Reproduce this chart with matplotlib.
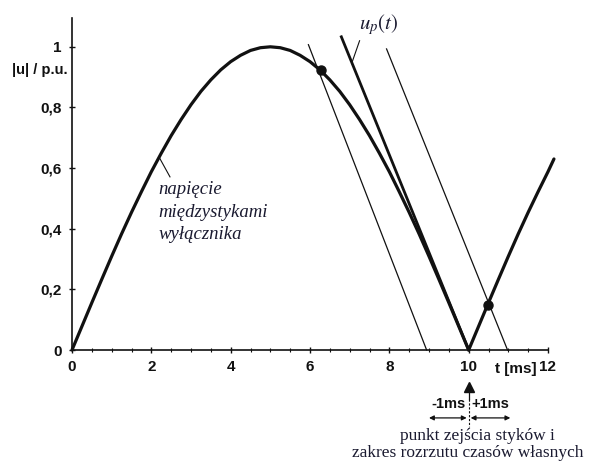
import matplotlib
matplotlib.use("Agg")
import matplotlib.pyplot as plt

# --- data ---
t_curve = [0, 0.25, 0.5, 0.75, 1, 1.25, 1.5, 1.75, 2, 2.25, 2.5, 2.75, 3, 3.25, 3.5,
           3.75, 4, 4.25, 4.5, 4.75, 5, 5.25, 5.5, 5.75, 6, 6.25, 6.5, 6.75, 7,
           7.25, 7.5, 7.75, 8, 8.25, 8.5, 8.75, 9, 9.25, 9.5, 9.75, 10, 10.25,
           10.5, 10.75, 11, 11.25, 11.5, 11.75, 12, 12.15]
u_curve = [0, 0.078, 0.156, 0.233, 0.309, 0.383, 0.454, 0.522, 0.588, 0.649, 0.707,
           0.760, 0.809, 0.853, 0.891, 0.924, 0.951, 0.972, 0.988, 0.997, 1.0,
           0.997, 0.988, 0.972, 0.951, 0.924, 0.891, 0.853, 0.809, 0.760, 0.707,
           0.649, 0.588, 0.522, 0.454, 0.383, 0.309, 0.233, 0.156, 0.078, 0,
           0.078, 0.156, 0.233, 0.309, 0.383, 0.454, 0.522, 0.588, 0.63]

# u_p(t) (thick) and the -1 ms / +1 ms parallels (thin): start (t, u) and zero crossing t
up_start_t = [6.79]
up_start_u = [1.033]
up_zero_t = [10.0]
thin_start_t = [5.96, 7.93]
thin_start_u = [1.007, 0.993]
thin_zero_t = [8.94, 10.98]

dots_t = [6.27, 10.48]
dots_u = [0.922, 0.150]

xticks = [0, 2, 4, 6, 8, 10, 12]
yticks = [0, 0.2, 0.4, 0.6, 0.8, 1.0]
ytick_labels = ["0", "0,2", "0,4", "0,6", "0,8", "1"]

ink = "#111111"
textc = "#1a1a30"

fig = plt.figure(figsize=(5.92, 4.63), dpi=100)
ax = fig.add_axes([72 / 592, 113 / 463, 476 / 592, 332 / 463])
ax.set_xlim(0, 12)
ax.set_ylim(0, 1.095)

for s in ["top", "right"]:
    ax.spines[s].set_visible(False)
ax.spines["left"].set_linewidth(1.2)
ax.spines["bottom"].set_linewidth(1.2)
ax.spines["left"].set_color(ink)
ax.spines["bottom"].set_color(ink)

ax.set_xticks(xticks)
ax.set_xticklabels([str(v) for v in xticks])
ax.set_yticks(yticks)
ax.set_yticklabels(ytick_labels)
ax.set_xticks([v * 0.5 for v in range(25)], minor=True)
ax.tick_params(axis="both", which="major", direction="inout", length=5, width=1,
               colors=ink, labelsize=11, pad=5)
ax.tick_params(axis="x", which="minor", direction="inout", length=3, width=0.8, colors=ink)
for lab in ax.get_xticklabels() + ax.get_yticklabels():
    lab.set_fontfamily("Liberation Sans")
    lab.set_fontweight("bold")

# main curve
ax.plot(t_curve, u_curve, color=ink, lw=2.3, solid_capstyle="round",
        solid_joinstyle="round", clip_on=False)

# u_p(t)
for t0, u0, t1 in zip(up_start_t, up_start_u, up_zero_t):
    ax.plot([t0, t1], [u0, 0], color=ink, lw=2.0, clip_on=False)
for t0, u0, t1 in zip(thin_start_t, thin_start_u, thin_zero_t):
    ax.plot([t0, t1], [u0, 0], color=ink, lw=0.9, clip_on=False)

ax.plot(dots_t, dots_u, "o", color=ink, ms=6.5, clip_on=False, zorder=5)

# labels
ax.text(-0.1, 0.925, "|u| / p.u.", ha="right", va="center", fontsize=10.5,
        fontweight="bold", family="Liberation Sans", color=ink)
ax.text(11.2, -0.062, "t [ms]", ha="center", va="center", fontsize=11,
        fontweight="bold", family="Liberation Sans", color=ink, clip_on=False)

ax.text(7.72, 1.075, r"$u_p(t)$", ha="center", va="center", fontsize=15,
        math_fontfamily="stix", color=textc)
ax.plot([7.25, 7.05], [1.02, 0.945], color=ink, lw=0.8, clip_on=False)

ax.text(2.17, 0.455, "napięcie\nmiędzystykami\nwyłącznika", ha="left", va="center",
        fontsize=13.5, family="Liberation Serif", style="italic", color=textc,
        linespacing=1.4)
ax.plot([2.2, 2.47], [0.635, 0.571], color=ink, lw=0.8)

# marker of contact separation point and scatter range
ax.plot([10], [-0.122], marker="^", color=ink, ms=7, clip_on=False)
ax.plot([10, 10], [-0.13, -0.16], color=ink, lw=0.9, clip_on=False)
ax.plot([10, 10], [-0.16, -0.255], color=ink, lw=0.8, ls=(0, (2, 1.5)), clip_on=False)
ax.text(9.5, -0.178, "-1ms", ha="center", va="center", fontsize=10.5,
        fontweight="bold", family="Liberation Sans", color=ink, clip_on=False)
ax.text(10.55, -0.178, "+1ms", ha="center", va="center", fontsize=10.5,
        fontweight="bold", family="Liberation Sans", color=ink, clip_on=False)
for a, b in [(9.0, 9.95), (10.05, 11.05)]:
    ax.annotate("", xy=(a, -0.224), xytext=(b, -0.224),
                arrowprops=dict(arrowstyle="<|-|>", color=ink, lw=0.9,
                                mutation_scale=7, shrinkA=0, shrinkB=0),
                annotation_clip=False)

fig.text(477 / 592, 1 - 436 / 463, "punkt zejścia styków i", ha="center", va="center",
         fontsize=12.5, family="Liberation Serif", color=textc)
fig.text(468 / 592, 1 - 453 / 463, "zakres rozrzutu czasów własnych", ha="center",
         va="center", fontsize=12.5, family="Liberation Serif", color=textc)

fig.savefig("out.png", dpi=100)
